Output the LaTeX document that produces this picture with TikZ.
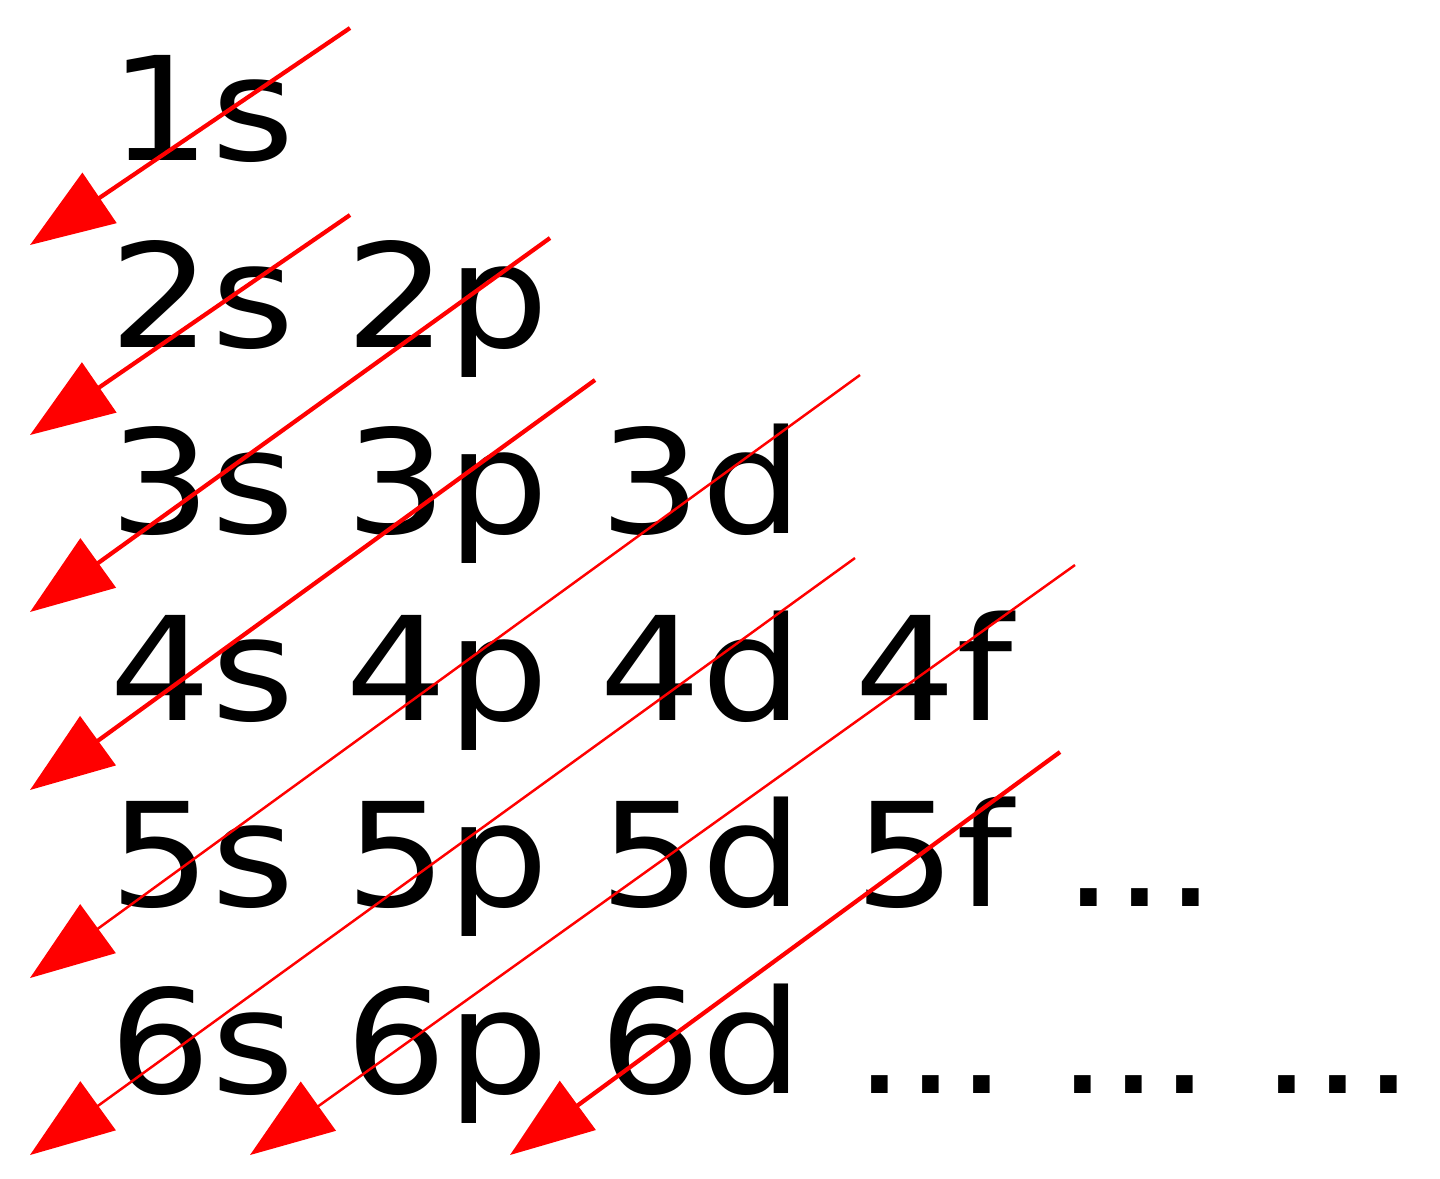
\documentclass[tikz,border=0pt]{standalone}
\usepackage{fontspec}
\setmainfont[FakeStretch=1.11]{DejaVu Sans}
\usetikzlibrary{arrows.meta}
\frenchspacing

\begin{document}
\begin{tikzpicture}[x=0.01cm,y=-0.01cm,
  orb/.style={anchor=base west,inner sep=0pt,font=\fontsize{41}{45}\selectfont},
  arr/.style={red,line width=1.2pt,-{Triangle[length=8.4mm,width=6mm]}},
  arrthin/.style={arr,line width=0.7pt}]
\useasboundingbox (0,0) rectangle (1440,1178);
\node[orb] (r1) at (109,160) {1s};
\node[orb] (r2) at (109,347) {2s 2p};
\node[orb] (r3) at (109,533) {3s 3p 3d};
\node[orb] (r4) at (109,720) {4s 4p 4d 4f};
\node[orb] (r5) at (109,906) {5s 5p 5d 5f ...};
\node[orb] (r6) at (109,1093) {6s 6p 6d ... ... ...};
\coordinate (a1) at (350,28);   \coordinate (b1) at (30,245);
\coordinate (a2) at (350,215);  \coordinate (b2) at (30,435);
\coordinate (a3) at (550,238);  \coordinate (b3) at (30,612);
\coordinate (a4) at (595,380);  \coordinate (b4) at (30,790);
\coordinate (a5) at (860,375);  \coordinate (b5) at (30,978);
\coordinate (a6) at (855,558);  \coordinate (b6) at (30,1155);
\coordinate (a7) at (1075,565); \coordinate (b7) at (250,1155);
\coordinate (a8) at (1060,752); \coordinate (b8) at (510,1155);
\foreach \i in {1,2,3,4,8} \draw[arr] (a\i) -- (b\i);
\foreach \i in {5,6,7} \draw[arrthin] (a\i) -- (b\i);
\end{tikzpicture}
\end{document}
